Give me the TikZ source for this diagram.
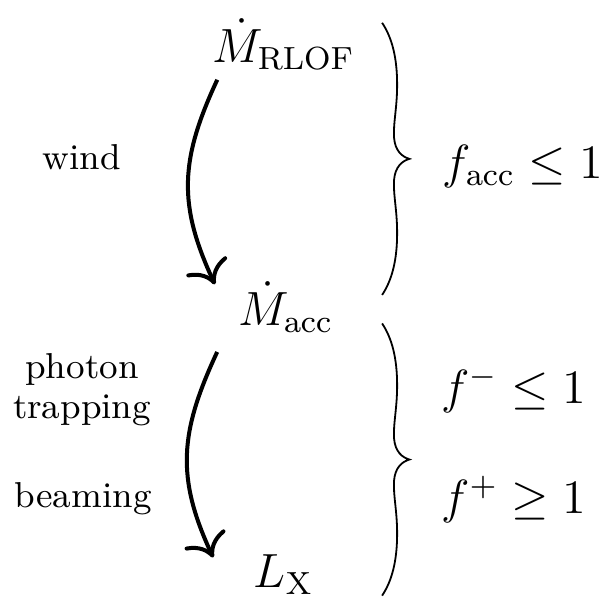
\documentclass[tikz,border=0pt]{standalone}
\usepackage{amsmath,amssymb}
\usepackage{tikz}
\usetikzlibrary{arrows.meta}

\begin{document}
\begin{tikzpicture}[
        every node/.style={font=\large},
        qty/.style={inner sep=0pt, anchor=base},
        lbl/.style={font=\small, align=center},
        flow/.style={-{To[scale=1.4]}, line width=1pt, out=245, in=115, looseness=1.1},
        grp/.style={line width=0.45pt}
    ]
    \useasboundingbox (0,0) rectangle (5.40,-5.26);

    % ============ mass flow chain ============
    \node[qty] (mrlof) at (2.49,-0.55) {$\dot{M}_{\mathrm{RLOF}}$};
    \node[qty] (macc)  at (2.51,-2.86) {$\dot{M}_{\mathrm{acc}}$};
    \node[qty] (lx)    at (2.49,-5.16) {$L_{\mathrm{X}}$};

    \draw[flow] ([xshift=0.05cm, yshift=-0.08cm]mrlof.south west)
        to ([xshift=-0.20cm, yshift=-0.03cm]macc.north west);
    \draw[flow] ([xshift=-0.18cm, yshift=-0.16cm]macc.south west)
        to ([xshift=-0.35cm, yshift=-0.03cm]lx.north west);

    % processes on the left
    \node[lbl, anchor=base] (wind) at (0.72,-1.49) {wind};
    \node[lbl] (trap) at (0.72,-3.42) {photon\\[-1pt]trapping};
    \node[lbl, anchor=base] (beam) at (0.73,-4.455) {beaming};

    % ============ braces and factors ============
    % hand drawn brace: top half to the tip, then down again
    \foreach \y in {-0.20,-2.84} {
        \begin{scope}[shift={(3.355,\y)}]
            \draw[grp] (0,0)
                .. controls (0.088,-0.132) and (0.132,-0.308) .. (0.132,-0.545)
                .. controls (0.132,-0.747) and (0.097,-0.879) .. (0.105,-1.010)
                .. controls (0.114,-1.125) and (0.176,-1.177) .. (0.240,-1.195)
                .. controls (0.176,-1.213) and (0.114,-1.265) .. (0.105,-1.380)
                .. controls (0.097,-1.511) and (0.132,-1.643) .. (0.132,-1.845)
                .. controls (0.132,-2.082) and (0.088,-2.258) .. (0,-2.390);
        \end{scope}
    }

    \node[qty] (facc)  at (4.59,-1.564) {$f_{\mathrm{acc}} \le 1$};
    \node[qty] (fminus) at (4.51,-3.541) {$f^{-} \le 1$};
    \node[qty] (fplus)  at (4.51,-4.507) {$f^{+} \ge 1$};
\end{tikzpicture}
\end{document}
